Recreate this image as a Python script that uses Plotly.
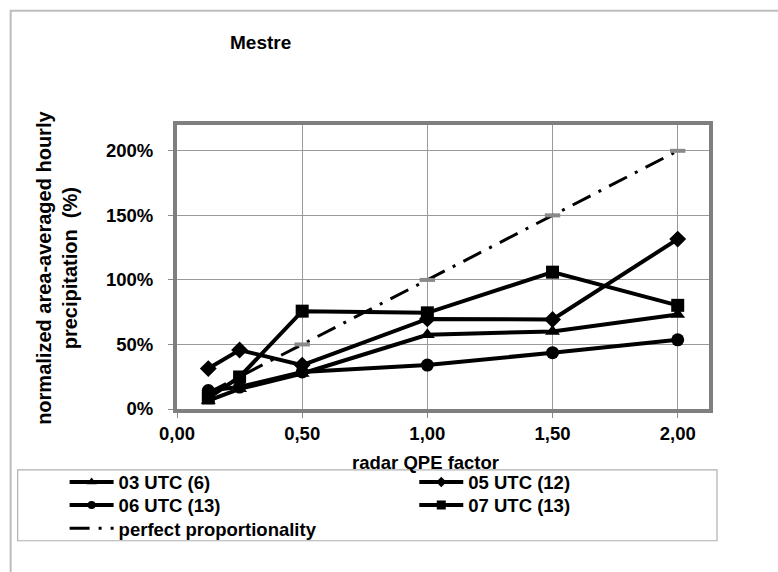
import plotly.graph_objects as go

# radar QPE factor (x) and normalized precipitation (%) per hour
factor = [0.125, 0.25, 0.5, 1.0, 1.5, 2.0]
utc03 = [6.5, 15.6, 27.5, 57.5, 60.1, 73.2]
utc05 = [31.3, 45.7, 34.0, 69.8, 69.3, 131.6]
utc06 = [14.3, 17.0, 28.7, 34.0, 43.6, 53.6]
utc07 = [8.5, 24.8, 75.8, 74.5, 106.0, 80.3]
perfect = [12.5, 25.0, 50.0, 100.0, 150.0, 200.0]

series_names = ["03 UTC (6)", "05 UTC (12)", "06 UTC (13)", "07 UTC (13)"]
series_values = [utc03, utc05, utc06, utc07]
series_symbols = ["triangle-up", "diamond", "circle", "square"]
series_legends = ["legend", "legend2", "legend3", "legend4"]
legend_marker_sizes = [9, 8, 8, 9]

x_ticks = [0.0, 0.5, 1.0, 1.5, 2.0]
x_ticktext = ["0,00", "0,50", "1,00", "1,50", "2,00"]
y_ticks = [0, 50, 100, 150, 200]
y_ticktext = ["0%", "50%", "100%", "150%", "200%"]

W, H = 778, 572
L, R, T, B = 176.5, 709, 124.5, 409


def px(x):
    return (x - L) / (R - L)


def py(y):
    return (B - y) / (B - T)


FONT = "Liberation Sans, Arial, sans-serif"
FS = 18.5
bold = dict(family=FONT, size=FS, color="black", weight="bold")
DASHDOT = "20px,9px,3px,9px"

fig = go.Figure()

for name, vals, sym in zip(series_names, series_values, series_symbols):
    fig.add_trace(go.Scatter(
        x=factor, y=vals, name=name, mode="lines+markers", showlegend=False,
        line=dict(color="black", width=4),
        marker=dict(symbol=sym, size=13, color="black"),
    ))

# reference line y = 100 * factor
fig.add_trace(go.Scatter(
    x=factor, y=perfect, name="perfect proportionality", mode="lines", showlegend=False,
    line=dict(color="black", width=3, dash=DASHDOT),
))
fig.add_trace(go.Scatter(
    x=factor[2:], y=perfect[2:], name="perfect proportionality", mode="markers",
    marker=dict(symbol="line-ew", size=11, color="#9a9a9a",
                line=dict(color="#8a8a8a", width=4)),
    showlegend=False,
))

# legend entries (smaller symbols than on the plot)
for name, sym, lg, ms in zip(series_names, series_symbols, series_legends, legend_marker_sizes):
    fig.add_trace(go.Scatter(
        x=[None], y=[None], name=name, mode="lines+markers", legend=lg,
        line=dict(color="black", width=4),
        marker=dict(symbol=sym, size=ms, color="black"),
    ))
fig.add_trace(go.Scatter(
    x=[None], y=[None], name="perfect proportionality", mode="lines", legend="legend5",
    line=dict(color="black", width=3, dash=DASHDOT),
))

legend_common = dict(
    orientation="v", xanchor="left", yanchor="top",
    itemwidth=44, font=bold, bgcolor="rgba(0,0,0,0)", borderwidth=0,
    tracegroupgap=0, itemclick=False,
)

# two-column legend layout: left edge per column, centre per row
COL1, COL2 = 64, 414
ROWS = [483.5, 506.5, 530]
OFF = 20

fig.update_layout(
    width=W, height=H,
    margin=dict(l=L, r=W - R, t=T, b=H - B, pad=0, autoexpand=False),
    paper_bgcolor="white", plot_bgcolor="white",
    font=bold,
    showlegend=True,
    legend=dict(x=px(COL1), y=py(ROWS[0] - OFF), **legend_common),
    legend2=dict(x=px(COL2), y=py(ROWS[0] - OFF), **legend_common),
    legend3=dict(x=px(COL1), y=py(ROWS[1] - OFF), **legend_common),
    legend4=dict(x=px(COL2), y=py(ROWS[1] - OFF), **legend_common),
    legend5=dict(x=px(COL1), y=py(ROWS[2] - OFF), **legend_common),
    annotations=[
        dict(text="Mestre", x=px(260), y=py(42), xref="paper", yref="paper",
             xanchor="center", yanchor="middle", showarrow=False,
             font=dict(family=FONT, size=19, color="black", weight="bold")),
        dict(text="normalized area-averaged hourly<br>precipitation  (%)",
             x=px(57), y=py(268), xref="paper", yref="paper", textangle=-90,
             xanchor="center", yanchor="middle", showarrow=False,
             font=dict(family=FONT, size=20, color="black", weight="bold")),
        dict(text="radar QPE factor", x=px(425), y=py(463), xref="paper", yref="paper",
             xanchor="center", yanchor="middle", showarrow=False, font=bold),
    ],
    shapes=[
        # outer chart frame
        dict(type="rect", xref="paper", yref="paper",
             x0=px(10), y0=py(620), x1=px(820), y1=py(10),
             line=dict(color="#bdbdbd", width=2), fillcolor="rgba(0,0,0,0)", layer="below"),
        # legend frame
        dict(type="rect", xref="paper", yref="paper",
             x0=px(17), y0=py(541), x1=px(717), y1=py(470),
             line=dict(color="#b0b0b0", width=1.2), fillcolor="rgba(0,0,0,0)"),
    ],
)

fig.update_xaxes(
    range=[0, 2.125], tickvals=x_ticks, ticktext=x_ticktext,
    showgrid=True, gridcolor="#9a9a9a", gridwidth=1,
    showline=True, mirror=True, linecolor="#7f7f7f", linewidth=4,
    ticks="outside", ticklen=5, tickcolor="#8a8a8a",
    zeroline=False, ticklabelstandoff=0,
    tickfont=bold,
)
fig.update_yaxes(
    range=[0, 220], tickvals=y_ticks, ticktext=y_ticktext,
    showgrid=True, gridcolor="#9a9a9a", gridwidth=1,
    showline=True, mirror=True, linecolor="#7f7f7f", linewidth=4,
    ticks="outside", ticklen=5, tickcolor="#8a8a8a",
    zeroline=False, ticklabelstandoff=11,
    tickfont=bold,
)

fig.write_html("out.html")
